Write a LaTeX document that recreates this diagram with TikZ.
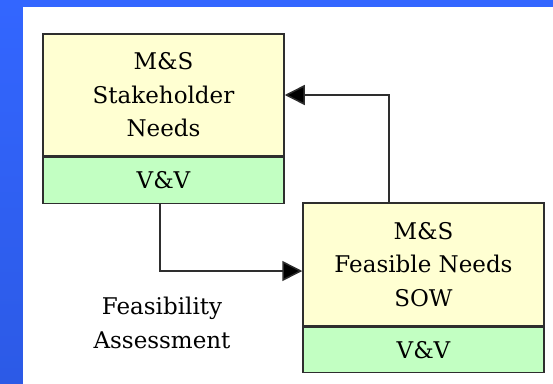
\documentclass[tikz,border=0pt]{standalone}
\usepackage{fontspec}
\setmainfont{DejaVu Serif}
\usetikzlibrary{arrows.meta,calc}
\definecolor{bgblueA}{HTML}{3366FF}
\definecolor{bgblueB}{HTML}{2C5AE6}
\definecolor{boxyellow}{HTML}{FFFFD2}
\definecolor{boxgreen}{HTML}{C2FFC2}
\definecolor{edgegray}{HTML}{2E2E2E}
\tikzset{
  txt/.style={font=\fontsize{23}{33.5}\selectfont, align=center, text=black},
  needbox/.style={txt, draw=edgegray, line width=1.5pt, fill=boxyellow, minimum width=241pt, inner sep=0pt},
  vvbox/.style={txt, draw=edgegray, line width=1.5pt, fill=boxgreen, minimum width=241pt, minimum height=46pt, inner sep=0pt},
  conn/.style={draw=edgegray, line width=1.5pt, -{Triangle[length=20pt,width=20pt,fill=black]}},
}
\begin{document}
\begin{tikzpicture}[x=1pt,y=-1pt]
  \shade[top color=bgblueA, bottom color=bgblueB] (0,0) rectangle (553,383);
  \useasboundingbox (0,0) rectangle (553,383);
  \fill[white] (23,7) rectangle (554,384);
  % box 1
  \node[needbox, minimum height=122pt] (n1) at (163.5,95) {M\&S\\Stakeholder\\Needs};
  \node[vvbox, anchor=north] (n1g) at (n1.south) {V\&V};
  % box 2
  \node[needbox, minimum height=123pt] (n2) at (423.5,264.5) {M\&S\\Feasible Needs\\SOW};
  \node[vvbox, minimum height=45pt, anchor=north] (n2g) at (n2.south) {V\&V};
  % label
  \node[txt] (lab) at (162,323) {Feasibility\\Assessment};
  % connectors
  \draw[conn] ([xshift=-3.5pt]n1g.south) |- ([yshift=-6.5pt]n2.west);
  \draw[conn] ([xshift=-34.5pt]n2.north) |- (n1.east);
\end{tikzpicture}
\end{document}
